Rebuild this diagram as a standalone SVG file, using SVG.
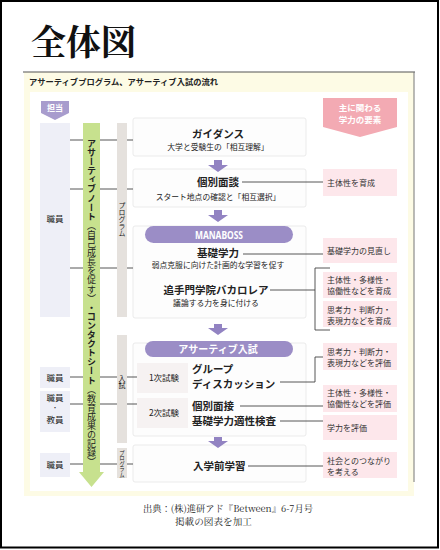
<svg xmlns="http://www.w3.org/2000/svg" width="440" height="550" viewBox="0 0 440 550">
<style>
.jp{font-family:"Noto Sans CJK JP","Noto Sans",sans-serif;fill:#222}
.b{font-weight:bold}
.h{font-size:10.5px;font-weight:bold}
.s{font-size:7.8px}
.r{font-size:8px;fill:#333}
.w{fill:#fff;font-weight:bold}
.v{writing-mode:vertical-rl}
.n{font-weight:normal}
.ln{stroke:#444;stroke-width:0.9;fill:none}
.cbox{fill:#fdfdfd;stroke:#ebebeb;stroke-width:1}
.pink{fill:#fde7eb}
.lbox{fill:#eeeff7}
.gbar{fill:#e5e1dd}
.arr{fill:#9283c2}
.bar{fill:#9b8dc6}
.sm{fill:#f6f2f2}
</style>
<rect x="0" y="0" width="440" height="550" fill="#fff"/>
<rect x="1" y="1" width="437" height="546.5" fill="none" stroke="#000" stroke-width="2"/>
<text x="31" y="55" font-family="'Noto Serif CJK JP','Liberation Serif','Noto Sans CJK JP',serif" font-size="35" font-weight="bold" fill="#111">全体図</text>
<g id="panel">
<rect x="24" y="72" width="390" height="424" fill="#fdfbe5"/>
<rect x="30" y="92" width="378" height="399" fill="#fff"/>
<line x1="23" y1="72" x2="415" y2="72" stroke="#555" stroke-width="1.2"/>
<line x1="414" y1="72" x2="414" y2="482" stroke="#777" stroke-width="1"/>
<text class="jp b" x="29" y="85" font-size="8.5" textLength="189" lengthAdjust="spacingAndGlyphs">アサーティブプログラム、アサーティブ入試の流れ</text>
</g>
<g id="content-boxes">
<rect class="cbox" x="133" y="118" width="173" height="38" rx="2"/>
<rect class="cbox" x="133" y="169" width="173" height="38" rx="2"/>
<rect class="cbox" x="133" y="226" width="173" height="92" rx="2"/>
<rect class="cbox" x="133" y="343" width="173" height="93" rx="2"/>
<rect class="cbox" x="133" y="445" width="173" height="37" rx="2"/>
</g>
<g id="connectors">
<line class="ln" x1="70" y1="140" x2="133" y2="140"/>
<line class="ln" x1="70" y1="189" x2="133" y2="189"/>
<line class="ln" x1="70" y1="268" x2="133" y2="268"/>
<line class="ln" x1="70" y1="377" x2="137" y2="377"/>
<line class="ln" x1="70" y1="404" x2="137" y2="404"/>
<line class="ln" x1="70" y1="464" x2="133" y2="464"/>
<line class="ln" x1="242" y1="182" x2="323" y2="182"/>
<line class="ln" x1="243" y1="254" x2="323" y2="254"/>
<polyline class="ln" points="270,290 315,290"/>
<polyline class="ln" points="330,268 315,268 315,330 330,330"/>
<polyline class="ln" points="280,382 315,382 315,357 325,357"/>
<line class="ln" x1="240" y1="406" x2="323" y2="406"/>
<line class="ln" x1="280" y1="421" x2="323" y2="421"/>
<line class="ln" x1="248" y1="466" x2="323" y2="466"/>
</g>
<g id="tantou">
<polygon points="41,101 69,101 69,113 55,120 41,113" fill="#a89ccd"/>
<text class="jp w" x="55" y="111" font-size="8" text-anchor="middle">担当</text>
</g>
<g id="staff1"><rect class="lbox" x="40" y="123" width="30" height="194"/><text class="jp" x="55" y="222" font-size="8.5" text-anchor="middle" fill="#333">職員</text></g>
<g id="staff2"><rect class="lbox" x="40" y="367" width="30" height="21"/><text class="jp" x="55" y="381" font-size="8.5" text-anchor="middle" fill="#333">職員</text></g>
<g id="staff3"><rect class="lbox" x="40" y="391" width="30" height="41"/><text class="jp" x="55" y="401" font-size="8.5" text-anchor="middle" fill="#333">職員</text><text class="jp" x="55" y="410" font-size="6" text-anchor="middle" fill="#333">・</text><text class="jp" x="55" y="423" font-size="8.5" text-anchor="middle" fill="#333">教員</text></g>
<g id="staff4"><rect class="lbox" x="40" y="453" width="30" height="24"/><text class="jp" x="55" y="468" font-size="8.5" text-anchor="middle" fill="#333">職員</text></g>
<g id="green-arrow">
<polygon points="83,123 100,123 100,472 104,472 91.5,487 79,472 83,472" fill="#c7e18e"/>
<text class="jp b v" x="91.5" y="139 148.1 157.2 166.3 175.4 184.5 193.6 202.7 211.8 220.9 230 239.1 248.2 257.3 266.4 275.5 284.6 293.7 302.8 311.9 321 330.1 339.2 348.3 357.4 366.5 375.6 384.7 393.8 402.9 412 421.1 430.2 439.3 448.4 457.5" font-size="9">アサーティブノート<tspan class="n">（自己成長を促す）</tspan>・コンタクトシート<tspan class="n">（教育成果の記録）</tspan></text>
</g>
<g id="bar-program"><rect class="gbar" x="117" y="123" width="10" height="194"/><text class="jp v" x="122" y="202" font-size="7" fill="#333">プログラム</text></g>
<g id="bar-exam"><rect class="gbar" x="117" y="335" width="10" height="108"/><text class="jp v" x="122" y="375" font-size="7" fill="#333">入試</text></g>
<g id="bar-program2"><rect class="gbar" x="117" y="448" width="10" height="30"/><text class="jp v" x="122" y="450" font-size="5.5" fill="#333">プログラム</text></g>
<g id="guidance">
<text class="jp h" x="218" y="138" text-anchor="middle">ガイダンス</text>
<text class="jp s" x="218" y="150" text-anchor="middle">大学と受験生の「相互理解」</text>
</g>
<g id="arrows">
<polygon class="arr" points="214,160 222,160 222,165 228,165 218,172 208,165 214,165"/>
<polygon class="arr" points="214,210 222,210 222,215 228,215 218,222 208,215 214,215"/>
<polygon class="arr" points="214,324 222,324 222,328 228,328 218,335 208,328 214,328"/>
<polygon class="arr" points="214,437 222,437 222,441 228,441 218,448 208,441 214,441"/>
</g>
<g id="interview">
<text class="jp h" x="218" y="186" text-anchor="middle">個別面談</text>
<text class="jp s" x="218" y="200" text-anchor="middle">スタート地点の確認と「相互選択」</text>
</g>
<g id="manaboss">
<rect class="bar" x="145" y="226" width="148" height="17" rx="8.5"/>
<text x="219" y="239" font-family="'Noto Sans','Liberation Sans',sans-serif" font-size="10" font-weight="bold" fill="#fff" text-anchor="middle" textLength="48" lengthAdjust="spacingAndGlyphs">MANABOSS</text>
</g>
<g id="kiso">
<text class="jp h" x="218" y="257" text-anchor="middle">基礎学力</text>
<text class="jp s" x="218" y="268" text-anchor="middle">弱点克服に向けた計画的な学習を促す</text>
</g>
<g id="bacca">
<text class="jp h" x="216" y="294" text-anchor="middle">追手門学院バカロレア</text>
<text class="jp s" x="216" y="306" text-anchor="middle">議論する力を身に付ける</text>
</g>
<g id="assertive-exam">
<rect class="bar" x="145" y="341" width="148" height="16" rx="8"/>
<text class="jp w" x="218" y="353" font-size="10" text-anchor="middle">アサーティブ入試</text>
</g>
<g id="exam1">
<rect class="sm" x="137" y="363" width="51" height="30"/>
<text class="jp" x="164" y="381" font-size="8.5" text-anchor="middle">1次試験</text>
<text class="jp h" x="192" y="373">グループ</text>
<text class="jp h" x="192" y="388">ディスカッション</text>
</g>
<g id="exam2">
<rect class="sm" x="137" y="398" width="51" height="30"/>
<text class="jp" x="164" y="416" font-size="8.5" text-anchor="middle">2次試験</text>
<text class="jp h" x="192" y="410">個別面接</text>
<text class="jp h" x="192" y="425">基礎学力適性検査</text>
</g>
<g id="pre-study">
<text class="jp h" x="193" y="470">入学前学習</text>
</g>
<g id="elements-header">
<polygon points="323,98 397,98 397,127 360,137 323,127" fill="#f3aab3"/>
<text class="jp w" x="360" y="111" font-size="8.5" text-anchor="middle">主に関わる</text>
<text class="jp w" x="360" y="123" font-size="8.5" text-anchor="middle">学力の要素</text>
</g>
<g id="e1"><rect class="pink" x="323" y="169" width="74" height="27"/><text class="jp r" x="327" y="186">主体性を育成</text></g>
<g id="e2"><rect class="pink" x="323" y="238" width="74" height="25"/><text class="jp r" x="327" y="254">基礎学力の見直し</text></g>
<g id="e3"><rect class="pink" x="323" y="272" width="74" height="26"/><text class="jp r" x="327" y="283">主体性・多様性・</text><text class="jp r" x="327" y="294">協働性などを育成</text></g>
<g id="e4"><rect class="pink" x="323" y="301" width="74" height="26"/><text class="jp r" x="327" y="313">思考力・判断力・</text><text class="jp r" x="327" y="324">表現力などを育成</text></g>
<g id="e5"><rect class="pink" x="323" y="343" width="74" height="27"/><text class="jp r" x="327" y="355">思考力・判断力・</text><text class="jp r" x="327" y="366">表現力などを評価</text></g>
<g id="e6"><rect class="pink" x="323" y="385" width="74" height="27"/><text class="jp r" x="327" y="396">主体性・多様性・</text><text class="jp r" x="327" y="407">協働性などを評価</text></g>
<g id="e7"><rect class="pink" x="323" y="415" width="74" height="25"/><text class="jp r" x="327" y="431">学力を評価</text></g>
<g id="e8"><rect class="pink" x="323" y="452" width="74" height="26"/><text class="jp r" x="327" y="464">社会とのつながり</text><text class="jp r" x="327" y="475">を考える</text></g>
<g id="caption">
<text x="143" y="512" font-family="'Noto Serif CJK JP','Liberation Serif','Noto Sans CJK JP',serif" font-size="9.5" fill="#222" textLength="170" lengthAdjust="spacingAndGlyphs">出典：(株)進研アド『Between』6-7月号</text>
<text x="175" y="525" font-family="'Noto Serif CJK JP','Liberation Serif','Noto Sans CJK JP',serif" font-size="9.5" fill="#222" textLength="77" lengthAdjust="spacingAndGlyphs">掲載の図表を加工</text>
</g>
</svg>
